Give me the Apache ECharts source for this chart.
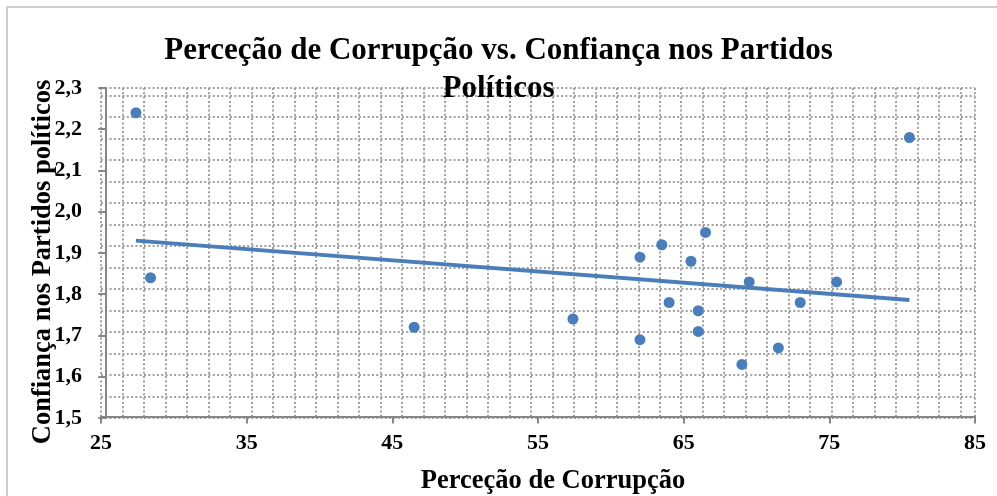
<!DOCTYPE html>
<html>
<head>
<meta charset="utf-8">
<script src="https://cdn.jsdelivr.net/npm/echarts@6/dist/echarts.min.js"></script>
<style>
html,body{margin:0;padding:0;background:#fff;}
#chart{width:997px;height:496px;}
</style>
</head>
<body>
<div id="chart"></div>
<script>
const titleText = 'Perceção de Corrupção vs. Confiança nos Partidos\nPolíticos';
const xAxisTitle = 'Perceção de Corrupção';
const yAxisTitle = 'Confiança nos Partidos políticos';
const xTickValues = [25, 35, 45, 55, 65, 75, 85];
const yTickValues = [1.5, 1.6, 1.7, 1.8, 1.9, 2.0, 2.1, 2.2, 2.3];
const corrupcao = [27.4, 28.4, 46.5, 57.4, 62.0, 62.0, 63.5, 64.0, 65.5, 66.0, 66.0, 66.5, 69.0, 69.5, 71.5, 73.0, 75.5, 80.5];
const confianca = [2.24, 1.84, 1.72, 1.74, 1.89, 1.69, 1.92, 1.78, 1.88, 1.76, 1.71, 1.95, 1.63, 1.83, 1.67, 1.78, 1.83, 2.18];
const trendX = [27.4, 80.5];
const trendY = [1.930, 1.786];

const font = '"Liberation Serif", "Times New Roman", serif';
const blue = '#4a7ebb';
const axisGray = '#868686';
const gridDots = {type: [2, 2.3], width: 2, color: '#a0a0a0'};

const points = corrupcao.map((x, i) => [x, confianca[i]]);
const trend = trendX.map((x, i) => [x, trendY[i]]);

const chart = echarts.init(document.getElementById('chart'), null, {renderer: 'canvas'});
chart.setOption({
  animation: false,
  backgroundColor: '#fff',
  title: {
    text: titleText,
    left: 'center',
    top: 27,
    textStyle: {fontFamily: font, fontWeight: 'bold', fontSize: 31, lineHeight: 38, color: '#000'},
    z: 10
  },
  grid: {left: 101, right: 22, top: 88, bottom: 78, containLabel: false},
  xAxis: [
    {
      type: 'value', min: xTickValues[0], max: xTickValues[xTickValues.length - 1], interval: 10,
      axisLine: {show: true, lineStyle: {color: axisGray, width: 2}},
      axisTick: {show: true, length: 7, lineStyle: {color: axisGray, width: 2}},
      axisLabel: {fontFamily: font, fontWeight: 'bold', fontSize: 22, color: '#000', margin: 14},
      splitLine: {show: false}
    },
    {
      type: 'value', min: -0.2, max: 40.47, interval: 1, position: 'top',
      axisLine: {show: false}, axisTick: {show: false}, axisLabel: {show: false},
      splitLine: {show: true, lineStyle: gridDots}
    }
  ],
  yAxis: [
    {
      type: 'value', min: yTickValues[0], max: yTickValues[yTickValues.length - 1], interval: 0.1,
      axisLine: {show: true, lineStyle: {color: axisGray, width: 2}},
      axisTick: {show: true, length: 7, lineStyle: {color: axisGray, width: 2}},
      axisLabel: {fontFamily: font, fontWeight: 'bold', fontSize: 22, color: '#000', margin: 19,
        formatter: v => v.toFixed(1).replace('.', ',')},
      splitLine: {show: false}
    },
    {
      type: 'value', min: -0.074, max: 15.28, interval: 1, position: 'right',
      axisLine: {show: false}, axisTick: {show: false}, axisLabel: {show: false},
      splitLine: {show: true, lineStyle: gridDots}
    }
  ],
  graphic: [
    {type: 'rect', silent: true, shape: {x: 7, y: 7, width: 1000, height: 500},
     style: {fill: 'none', stroke: '#c0c0c0', lineWidth: 1.5}},
    {type: 'text', x: 553, y: 481, silent: true,
     style: {text: xAxisTitle, fontFamily: font, fontWeight: 'bold', fontSize: 26.5, fill: '#000',
       textAlign: 'center', textVerticalAlign: 'middle'}},
    {type: 'text', x: 43, y: 262, rotation: Math.PI / 2, silent: true,
     style: {text: yAxisTitle, fontFamily: font, fontWeight: 'bold', fontSize: 26.5, fill: '#000',
       textAlign: 'center', textVerticalAlign: 'middle'}}
  ],
  series: [
    {
      type: 'line', xAxisIndex: 0, yAxisIndex: 0, data: trend, symbol: 'none',
      lineStyle: {color: blue, width: 4}, z: 3
    },
    {
      type: 'scatter', xAxisIndex: 0, yAxisIndex: 0, data: points, symbolSize: 11,
      itemStyle: {color: blue, opacity: 1}, z: 4
    }
  ]
});
</script>
</body>
</html>
